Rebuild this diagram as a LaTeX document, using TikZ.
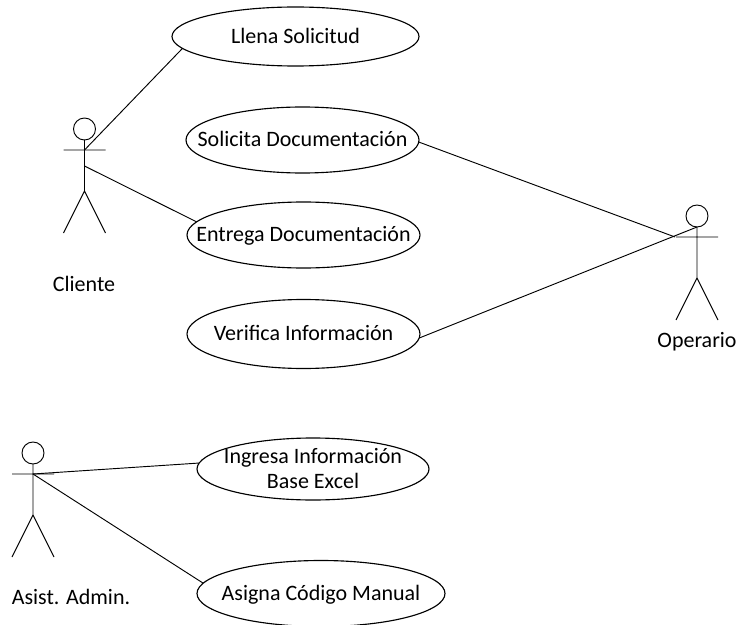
\documentclass[tikz,border=0pt]{standalone}
\usepackage{fontspec}
\setmainfont{Carlito}
\usetikzlibrary{shapes.geometric}
\tikzset{
 uc/.style n args={2}{draw,ellipse,line width=0.85pt,minimum width=#1,minimum height=#2,inner sep=0pt,outer sep=0pt,font=\fontsize{16.5}{18.8}\selectfont},
 lab/.style={font=\fontsize{16.5}{19}\selectfont,inner sep=0pt},
 ln/.style={line width=0.7pt},
 hd/.style={draw,circle,line width=0.7pt,minimum size=16.5pt,inner sep=0pt,outer sep=0pt}
}
\newcommand{\tightlabel}[1]{\makebox[0pt]{\raisebox{-5.7pt}[0pt][0pt]{\begin{tabular}{@{}c@{}}#1\end{tabular}}}}
\newcommand{\stickman}[3]{%
 \node[hd] (#3) at (#1,#2) {};
 \coordinate (#3h) at (#1,#2+21);
 \coordinate (#3w) at (#1,#2+62);
 \coordinate (#3a) at (#1-21,#2+21);
 \coordinate (#3b) at (#1+21,#2+21);
 \coordinate (#3l) at (#1-21,#2+104);
 \coordinate (#3r) at (#1+21,#2+104);
 \draw[ln] (#3.south)--(#3w) (#3a)--(#3b) (#3l)--(#3w)--(#3r);
}
\begin{document}
\begin{tikzpicture}[x=0.75pt,y=-0.75pt]
\useasboundingbox (0,0) rectangle (738,624);
\stickman{84.5}{129}{cl}
\stickman{697}{216}{op}
\stickman{33}{453}{as}
\coordinate (clm) at (84.5,166);
\coordinate (opa) at (675,237);
\coordinate (opn) at (697,227);
\node[uc={185.25pt}{44.25pt}] (e1) at (295.5,36.5) {\tightlabel{Llena Solicitud}};
\node[uc={174.75pt}{49.5pt}] (e2) at (302.5,140) {\tightlabel{Solicita Documentación}};
\node[uc={174.75pt}{49.5pt}] (e3) at (303.5,235) {\tightlabel{Entrega Documentación}};
\node[uc={174.75pt}{51.75pt}] (e4) at (303.5,334) {\tightlabel{Verifica Información}};
\node[uc={174pt}{46.5pt}] (e5) at (313,469) {\tightlabel{Ingresa Información\\Base Excel}};
\node[uc={186pt}{49.5pt}] (e6) at (321,593.5) {\tightlabel{Asigna Código Manual}};
\node[lab] (t1) at (84,284) {Cliente};
\node[lab] (t2) at (697,342) {Operario};
\node[lab] (t3) at (71,597) {Asist. Admin.};
\draw[ln] (clh)--(e1.186.7);
\draw[ln] (clm)--(e3.173);
\draw[ln] (e2.-1)--(opa);
\draw[ln] (e4.-2)--(opn);
\draw[ln] (ash)--(e5.177);
\draw[ln] (ash)--(e6.175.6);
\end{tikzpicture}
\end{document}
